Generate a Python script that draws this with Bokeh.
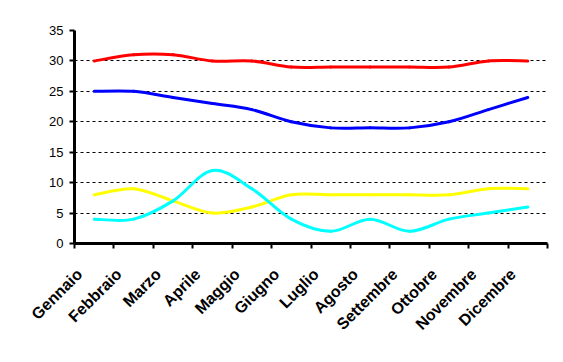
import numpy as np
from bokeh.plotting import figure
from bokeh.models import Range1d, FixedTicker, LinearAxis
from bokeh.embed import file_html
from bokeh.resources import INLINE

months = ["Gennaio", "Febbraio", "Marzo", "Aprile", "Maggio", "Giugno",
          "Luglio", "Agosto", "Settembre", "Ottobre", "Novembre", "Dicembre"]
red_vals = [30, 31, 31, 30, 30, 29, 29, 29, 29, 29, 30, 30]
blue_vals = [25, 25, 24, 23, 22, 20, 19, 19, 19, 20, 22, 24]
yellow_vals = [8, 9, 7, 5, 6, 8, 8, 8, 8, 8, 9, 9]
cyan_vals = [4, 4, 7, 12, 9, 4, 2, 4, 2, 4, 5, 6]
y_ticks = [0, 5, 10, 15, 20, 25, 30, 35]

xc = np.arange(len(months)) + 0.5

p = figure(width=555, height=354, output_backend="svg", toolbar_location=None,
           x_range=Range1d(0, len(months)), y_range=Range1d(0, 35),
           min_border_left=74, min_border_right=8, min_border_top=30,
           min_border_bottom=111, x_axis_location=None)
p.outline_line_color = None
p.background_fill_color = "white"
p.border_fill_color = "white"

p.xgrid.grid_line_color = None
p.ygrid.grid_line_color = "black"
p.ygrid.grid_line_dash = "3 3"
p.ygrid.grid_line_width = 1
p.ygrid.ticker = FixedTicker(ticks=y_ticks)


def smooth(ys, color):
    n = len(ys)
    xs = list(xc)
    px = [xs[0]] + xs + [xs[-1]]
    py = [ys[0]] + list(ys) + [ys[-1]]
    x0, y0, x1, y1, cx0, cy0, cx1, cy1 = [], [], [], [], [], [], [], []
    for i in range(n - 1):
        a, b, c, d = i, i + 1, i + 2, i + 3
        x0.append(px[b]); y0.append(py[b])
        x1.append(px[c]); y1.append(py[c])
        cx0.append(px[b] + (px[c] - px[a]) / 6.0)
        cy0.append(py[b] + (py[c] - py[a]) / 6.0)
        cx1.append(px[c] - (px[d] - px[b]) / 6.0)
        cy1.append(py[c] - (py[d] - py[b]) / 6.0)
    p.bezier(x0=x0, y0=y0, x1=x1, y1=y1, cx0=cx0, cy0=cy0, cx1=cx1, cy1=cy1,
             line_color=color, line_width=3, line_cap="round")


smooth(red_vals, "#FF0000")
smooth(blue_vals, "#0000FF")
smooth(yellow_vals, "#FFFF00")
smooth(cyan_vals, "#00FFFF")

# axis with boundary ticks (no labels)
ax = LinearAxis(ticker=FixedTicker(ticks=list(range(len(months) + 1))))
ax.major_label_text_color = None
ax.major_label_text_font_size = "0px"
ax.major_label_standoff = 0
ax.axis_line_width = 3
ax.axis_line_color = "black"
ax.major_tick_line_width = 2
ax.major_tick_out = 5
ax.major_tick_in = 0
ax.minor_tick_line_color = None
p.add_layout(ax, "below")

# axis carrying the rotated month labels
label_shift = 0.375
lab_ticks = [float(v - label_shift) for v in xc]
lab = LinearAxis(ticker=FixedTicker(ticks=lab_ticks),
                 major_label_overrides={t: m for t, m in zip(lab_ticks, months)})
lab.axis_line_color = None
lab.major_tick_line_color = None
lab.minor_tick_line_color = None
lab.major_tick_out = 0
lab.major_tick_in = 0
lab.major_label_standoff = 23
lab.major_label_orientation = np.pi / 4
lab.major_label_text_font = "Liberation Sans"
lab.major_label_text_font_style = "bold"
lab.major_label_text_font_size = "16px"
lab.major_label_text_color = "black"
p.add_layout(lab, "below")

ay = p.yaxis[0]
ay.ticker = FixedTicker(ticks=y_ticks)
ay.axis_line_width = 3
ay.axis_line_color = "black"
ay.major_tick_line_width = 2
ay.major_tick_out = 5
ay.major_tick_in = 0
ay.minor_tick_line_color = None
ay.major_label_standoff = 6
ay.major_label_text_font = "Liberation Sans"
ay.major_label_text_font_size = "13px"
ay.major_label_text_color = "black"

open("out.html", "w").write(file_html(p, INLINE))
